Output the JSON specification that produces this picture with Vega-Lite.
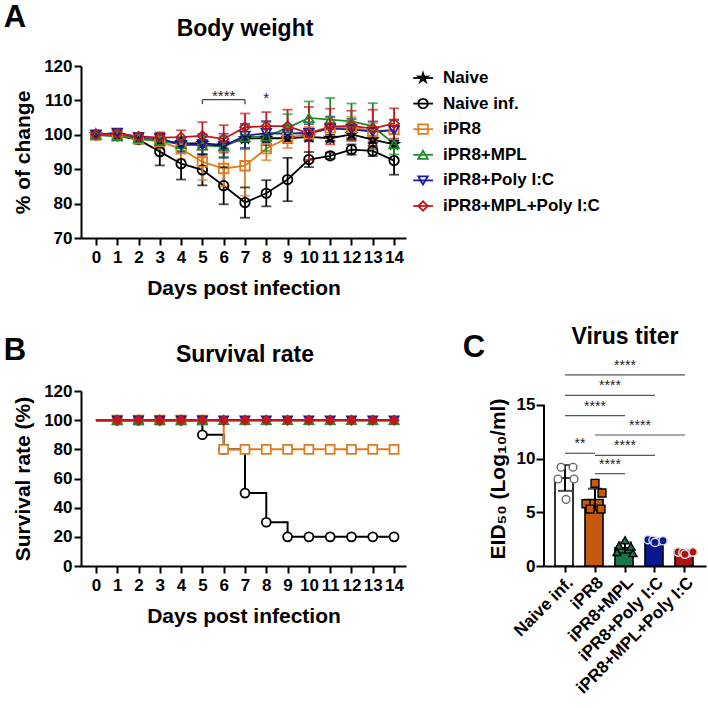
{
"$schema": "https://vega.github.io/schema/vega-lite/v6.json",
"padding": {"left": 3, "top": 2, "right": 5, "bottom": 3},
"bounds": "flush",
"spacing": 153,
"background": "white",
"config": {
  "font": "Liberation Sans",
  "view": {"stroke": null},
  "axis": {"labelFont": "Liberation Sans", "labelFontWeight": "bold", "labelFontSize": 17, "labelColor": "black",
           "titleFont": "Liberation Sans", "titleFontWeight": "bold", "titleFontSize": 21, "titleColor": "black",
           "domainColor": "black", "domainWidth": 2, "tickColor": "black", "tickWidth": 2, "tickSize": 7, "grid": false, "labelPadding": 3}
},
"resolve": {"scale": {"color": "independent", "shape": "independent", "fill": "independent", "stroke": "independent", "size": "independent"}},
"datasets": {
  "bw": [
    {"g":"Naive","d":0,"w":100,"lo":99.5,"hi":100.5},{"g":"Naive","d":1,"w":99.8,"lo":99.0,"hi":100.6},{"g":"Naive","d":2,"w":98.8,"lo":98.0,"hi":99.6},{"g":"Naive","d":3,"w":98.3,"lo":97.3,"hi":99.3},{"g":"Naive","d":4,"w":97.6,"lo":96.6,"hi":98.6},{"g":"Naive","d":5,"w":97.5,"lo":96.5,"hi":98.5},{"g":"Naive","d":6,"w":97.0,"lo":96.0,"hi":98.0},{"g":"Naive","d":7,"w":98.9,"lo":97.9,"hi":99.9},{"g":"Naive","d":8,"w":99.0,"lo":98.0,"hi":100.0},{"g":"Naive","d":9,"w":99.0,"lo":98.0,"hi":100.0},{"g":"Naive","d":10,"w":99.4,"lo":98.4,"hi":100.4},{"g":"Naive","d":11,"w":99.0,"lo":98.0,"hi":100.0},{"g":"Naive","d":12,"w":100.1,"lo":99.1,"hi":101.1},{"g":"Naive","d":13,"w":98.6,"lo":97.6,"hi":99.6},{"g":"Naive","d":14,"w":97.2,"lo":96.2,"hi":98.2},
    {"g":"Naive inf.","d":0,"w":100,"lo":99.5,"hi":100.5},{"g":"Naive inf.","d":1,"w":99.7,"lo":98.9,"hi":100.5},{"g":"Naive inf.","d":2,"w":98.6,"lo":97.6,"hi":99.6},{"g":"Naive inf.","d":3,"w":95.1,"lo":91.1,"hi":99.1},{"g":"Naive inf.","d":4,"w":91.6,"lo":87.0,"hi":96.2},{"g":"Naive inf.","d":5,"w":89.8,"lo":85.3,"hi":94.3},{"g":"Naive inf.","d":6,"w":85.2,"lo":79.8,"hi":90.6},{"g":"Naive inf.","d":7,"w":80.3,"lo":75.9,"hi":84.7},{"g":"Naive inf.","d":8,"w":83.0,"lo":79.2,"hi":86.8},{"g":"Naive inf.","d":9,"w":87.0,"lo":80.7,"hi":93.3},{"g":"Naive inf.","d":10,"w":92.8,"lo":90.6,"hi":95.0},{"g":"Naive inf.","d":11,"w":93.9,"lo":93.0,"hi":94.8},{"g":"Naive inf.","d":12,"w":95.7,"lo":94.2,"hi":97.2},{"g":"Naive inf.","d":13,"w":95.3,"lo":93.8,"hi":96.8},{"g":"Naive inf.","d":14,"w":92.5,"lo":88.4,"hi":96.6},
    {"g":"iPR8","d":0,"w":100,"lo":99.5,"hi":100.5},{"g":"iPR8","d":1,"w":99.8,"lo":99.0,"hi":100.6},{"g":"iPR8","d":2,"w":98.8,"lo":97.8,"hi":99.8},{"g":"iPR8","d":3,"w":98.1,"lo":95.9,"hi":100.3},{"g":"iPR8","d":4,"w":95.9,"lo":92.9,"hi":98.9},{"g":"iPR8","d":5,"w":92.1,"lo":86.9,"hi":97.3},{"g":"iPR8","d":6,"w":90.2,"lo":85.0,"hi":95.4},{"g":"iPR8","d":7,"w":91.0,"lo":82.3,"hi":99.7},{"g":"iPR8","d":8,"w":96.0,"lo":92.6,"hi":99.4},{"g":"iPR8","d":9,"w":99.1,"lo":96.1,"hi":102.1},{"g":"iPR8","d":10,"w":100.3,"lo":98.3,"hi":102.3},{"g":"iPR8","d":11,"w":102.0,"lo":99.0,"hi":105.0},{"g":"iPR8","d":12,"w":102.2,"lo":99.2,"hi":105.2},{"g":"iPR8","d":13,"w":101.0,"lo":98.5,"hi":103.5},{"g":"iPR8","d":14,"w":101.5,"lo":98.5,"hi":104.5},
    {"g":"iPR8+MPL","d":0,"w":100,"lo":99.5,"hi":100.5},{"g":"iPR8+MPL","d":1,"w":99.6,"lo":98.8,"hi":100.4},{"g":"iPR8+MPL","d":2,"w":99.0,"lo":98.0,"hi":100.0},{"g":"iPR8+MPL","d":3,"w":98.2,"lo":96.2,"hi":100.2},{"g":"iPR8+MPL","d":4,"w":97.3,"lo":95.3,"hi":99.3},{"g":"iPR8+MPL","d":5,"w":96.9,"lo":94.4,"hi":99.4},{"g":"iPR8+MPL","d":6,"w":96.6,"lo":93.6,"hi":99.6},{"g":"iPR8+MPL","d":7,"w":99.3,"lo":95.8,"hi":102.8},{"g":"iPR8+MPL","d":8,"w":99.5,"lo":95.3,"hi":103.7},{"g":"iPR8+MPL","d":9,"w":102.0,"lo":98.0,"hi":106.0},{"g":"iPR8+MPL","d":10,"w":104.9,"lo":100.1,"hi":109.7},{"g":"iPR8+MPL","d":11,"w":104.4,"lo":98.1,"hi":110.7},{"g":"iPR8+MPL","d":12,"w":103.9,"lo":98.7,"hi":109.1},{"g":"iPR8+MPL","d":13,"w":102.5,"lo":95.8,"hi":109.2},{"g":"iPR8+MPL","d":14,"w":97.3,"lo":94.3,"hi":100.3},
    {"g":"iPR8+Poly I:C","d":0,"w":100,"lo":99.2,"hi":100.8},{"g":"iPR8+Poly I:C","d":1,"w":100.6,"lo":99.6,"hi":101.6},{"g":"iPR8+Poly I:C","d":2,"w":99.3,"lo":98.3,"hi":100.3},{"g":"iPR8+Poly I:C","d":3,"w":99.0,"lo":97.5,"hi":100.5},{"g":"iPR8+Poly I:C","d":4,"w":97.0,"lo":95.0,"hi":99.0},{"g":"iPR8+Poly I:C","d":5,"w":97.2,"lo":94.2,"hi":100.2},{"g":"iPR8+Poly I:C","d":6,"w":96.8,"lo":93.3,"hi":100.3},{"g":"iPR8+Poly I:C","d":7,"w":99.7,"lo":96.2,"hi":103.2},{"g":"iPR8+Poly I:C","d":8,"w":100.5,"lo":97.0,"hi":104.0},{"g":"iPR8+Poly I:C","d":9,"w":100.3,"lo":97.8,"hi":102.8},{"g":"iPR8+Poly I:C","d":10,"w":100.6,"lo":98.1,"hi":103.1},{"g":"iPR8+Poly I:C","d":11,"w":101.8,"lo":98.3,"hi":105.3},{"g":"iPR8+Poly I:C","d":12,"w":101.6,"lo":98.6,"hi":104.6},{"g":"iPR8+Poly I:C","d":13,"w":100.9,"lo":97.9,"hi":103.9},{"g":"iPR8+Poly I:C","d":14,"w":101.3,"lo":98.3,"hi":104.3},
    {"g":"iPR8+MPL+Poly I:C","d":0,"w":100,"lo":99.4,"hi":100.6},{"g":"iPR8+MPL+Poly I:C","d":1,"w":100.3,"lo":99.5,"hi":101.1},{"g":"iPR8+MPL+Poly I:C","d":2,"w":99.5,"lo":98.5,"hi":100.5},{"g":"iPR8+MPL+Poly I:C","d":3,"w":99.2,"lo":97.7,"hi":100.7},{"g":"iPR8+MPL+Poly I:C","d":4,"w":99.3,"lo":97.3,"hi":101.3},{"g":"iPR8+MPL+Poly I:C","d":5,"w":99.7,"lo":95.7,"hi":103.7},{"g":"iPR8+MPL+Poly I:C","d":6,"w":98.8,"lo":94.8,"hi":102.8},{"g":"iPR8+MPL+Poly I:C","d":7,"w":102.2,"lo":98.2,"hi":106.2},{"g":"iPR8+MPL+Poly I:C","d":8,"w":102.5,"lo":98.4,"hi":106.6},{"g":"iPR8+MPL+Poly I:C","d":9,"w":102.5,"lo":97.7,"hi":107.3},{"g":"iPR8+MPL+Poly I:C","d":10,"w":100.4,"lo":92.7,"hi":108.1},{"g":"iPR8+MPL+Poly I:C","d":11,"w":102.4,"lo":97.2,"hi":107.6},{"g":"iPR8+MPL+Poly I:C","d":12,"w":102.6,"lo":98.2,"hi":107.0},{"g":"iPR8+MPL+Poly I:C","d":13,"w":101.8,"lo":96.3,"hi":107.3},{"g":"iPR8+MPL+Poly I:C","d":14,"w":103.3,"lo":98.9,"hi":107.7}
  ],
  "surv": [
    {"g":"Naive inf.","d":0,"s":100},{"g":"Naive inf.","d":1,"s":100},{"g":"Naive inf.","d":2,"s":100},{"g":"Naive inf.","d":3,"s":100},{"g":"Naive inf.","d":4,"s":100},{"g":"Naive inf.","d":5,"s":90},{"g":"Naive inf.","d":6,"s":80},{"g":"Naive inf.","d":7,"s":50},{"g":"Naive inf.","d":8,"s":30},{"g":"Naive inf.","d":9,"s":20},{"g":"Naive inf.","d":10,"s":20},{"g":"Naive inf.","d":11,"s":20},{"g":"Naive inf.","d":12,"s":20},{"g":"Naive inf.","d":13,"s":20},{"g":"Naive inf.","d":14,"s":20},
    {"g":"iPR8","d":0,"s":100},{"g":"iPR8","d":1,"s":100},{"g":"iPR8","d":2,"s":100},{"g":"iPR8","d":3,"s":100},{"g":"iPR8","d":4,"s":100},{"g":"iPR8","d":5,"s":100},{"g":"iPR8","d":6,"s":80},{"g":"iPR8","d":7,"s":80},{"g":"iPR8","d":8,"s":80},{"g":"iPR8","d":9,"s":80},{"g":"iPR8","d":10,"s":80},{"g":"iPR8","d":11,"s":80},{"g":"iPR8","d":12,"s":80},{"g":"iPR8","d":13,"s":80},{"g":"iPR8","d":14,"s":80},
    {"g":"iPR8+MPL","d":0,"s":100},{"g":"iPR8+MPL","d":1,"s":100},{"g":"iPR8+MPL","d":2,"s":100},{"g":"iPR8+MPL","d":3,"s":100},{"g":"iPR8+MPL","d":4,"s":100},{"g":"iPR8+MPL","d":5,"s":100},{"g":"iPR8+MPL","d":6,"s":100},{"g":"iPR8+MPL","d":7,"s":100},{"g":"iPR8+MPL","d":8,"s":100},{"g":"iPR8+MPL","d":9,"s":100},{"g":"iPR8+MPL","d":10,"s":100},{"g":"iPR8+MPL","d":11,"s":100},{"g":"iPR8+MPL","d":12,"s":100},{"g":"iPR8+MPL","d":13,"s":100},{"g":"iPR8+MPL","d":14,"s":100},
    {"g":"iPR8+Poly I:C","d":0,"s":100},{"g":"iPR8+Poly I:C","d":1,"s":100},{"g":"iPR8+Poly I:C","d":2,"s":100},{"g":"iPR8+Poly I:C","d":3,"s":100},{"g":"iPR8+Poly I:C","d":4,"s":100},{"g":"iPR8+Poly I:C","d":5,"s":100},{"g":"iPR8+Poly I:C","d":6,"s":100},{"g":"iPR8+Poly I:C","d":7,"s":100},{"g":"iPR8+Poly I:C","d":8,"s":100},{"g":"iPR8+Poly I:C","d":9,"s":100},{"g":"iPR8+Poly I:C","d":10,"s":100},{"g":"iPR8+Poly I:C","d":11,"s":100},{"g":"iPR8+Poly I:C","d":12,"s":100},{"g":"iPR8+Poly I:C","d":13,"s":100},{"g":"iPR8+Poly I:C","d":14,"s":100},
    {"g":"iPR8+MPL+Poly I:C","d":0,"s":100},{"g":"iPR8+MPL+Poly I:C","d":1,"s":100},{"g":"iPR8+MPL+Poly I:C","d":2,"s":100},{"g":"iPR8+MPL+Poly I:C","d":3,"s":100},{"g":"iPR8+MPL+Poly I:C","d":4,"s":100},{"g":"iPR8+MPL+Poly I:C","d":5,"s":100},{"g":"iPR8+MPL+Poly I:C","d":6,"s":100},{"g":"iPR8+MPL+Poly I:C","d":7,"s":100},{"g":"iPR8+MPL+Poly I:C","d":8,"s":100},{"g":"iPR8+MPL+Poly I:C","d":9,"s":100},{"g":"iPR8+MPL+Poly I:C","d":10,"s":100},{"g":"iPR8+MPL+Poly I:C","d":11,"s":100},{"g":"iPR8+MPL+Poly I:C","d":12,"s":100},{"g":"iPR8+MPL+Poly I:C","d":13,"s":100},{"g":"iPR8+MPL+Poly I:C","d":14,"s":100}
  ],
  "titer": [
    {"g":"Naive inf.","m":8.2,"lo":7.0,"hi":9.4},
    {"g":"iPR8","m":6.2,"lo":5.2,"hi":7.2},
    {"g":"iPR8+MPL","m":1.7,"lo":1.2,"hi":2.2},
    {"g":"iPR8+Poly I:C","m":2.3,"lo":2.15,"hi":2.45},
    {"g":"iPR8+MPL+Poly I:C","m":1.2,"lo":1.1,"hi":1.3}
  ],
  "pts": [
    {"g":"Naive inf.","v":9.2,"j":-4},{"g":"Naive inf.","v":9.2,"j":8},{"g":"Naive inf.","v":8.1,"j":-7},{"g":"Naive inf.","v":8.1,"j":9},{"g":"Naive inf.","v":6.2,"j":1},
    {"g":"iPR8","v":7.7,"j":0},{"g":"iPR8","v":5.8,"j":-9},{"g":"iPR8","v":6.8,"j":7},{"g":"iPR8","v":5.3,"j":-5},{"g":"iPR8","v":5.3,"j":6},
    {"g":"iPR8+MPL","v":2.4,"j":0},{"g":"iPR8+MPL","v":1.9,"j":-6},{"g":"iPR8+MPL","v":1.8,"j":6},{"g":"iPR8+MPL","v":1.3,"j":-8},{"g":"iPR8+MPL","v":1.2,"j":8},
    {"g":"iPR8+Poly I:C","v":2.45,"j":-7},{"g":"iPR8+Poly I:C","v":2.4,"j":-2},{"g":"iPR8+Poly I:C","v":2.3,"j":3},{"g":"iPR8+Poly I:C","v":2.35,"j":8},{"g":"iPR8+Poly I:C","v":2.2,"j":0},
    {"g":"iPR8+MPL+Poly I:C","v":1.3,"j":-7},{"g":"iPR8+MPL+Poly I:C","v":1.25,"j":-2},{"g":"iPR8+MPL+Poly I:C","v":1.2,"j":3},{"g":"iPR8+MPL+Poly I:C","v":1.3,"j":8},{"g":"iPR8+MPL+Poly I:C","v":1.1,"j":0}
  ],
  "sig": [
    {"g1":"Naive inf.","g2":"iPR8+MPL+Poly I:C","lev":17.8,"lab":"****","mid":"iPR8+MPL","odd":0},
    {"g1":"Naive inf.","g2":"iPR8+Poly I:C","lev":15.9,"lab":"****","mid":"iPR8","odd":1},
    {"g1":"Naive inf.","g2":"iPR8+MPL","lev":14.0,"lab":"****","mid":"iPR8","odd":0},
    {"g1":"iPR8","g2":"iPR8+MPL+Poly I:C","lev":12.2,"lab":"****","mid":"iPR8+MPL","odd":1},
    {"g1":"Naive inf.","g2":"iPR8","lev":10.5,"lab":"**","mid":"Naive inf.","odd":1},
    {"g1":"iPR8","g2":"iPR8+Poly I:C","lev":10.3,"lab":"****","mid":"iPR8+MPL","odd":0},
    {"g1":"iPR8","g2":"iPR8+MPL","lev":8.6,"lab":"****","mid":"iPR8","odd":1}
  ],
  "sigA": [{"d1":5,"d2":7,"lev":110.2,"end":108.9}],
  "starA": [{"d":6,"y":111.4,"t":"****"},{"d":8,"y":110.7,"t":"*"}]
},
"vconcat": [
  {
    "width": 325, "height": 172,
    "resolve": {"scale": {"y": "independent"}, "axis": {"y": "independent"}},
    "layer": [
      {
        "layer": [
          {"data": {"name": "bw"}, "mark": {"type": "line", "strokeWidth": 1.8},
           "encoding": {
             "x": {"field": "d", "type": "quantitative", "scale": {"domain": [-0.7, 14.56], "nice": false, "zero": false},
                   "axis": {"values": [0,1,2,3,4,5,6,7,8,9,10,11,12,13,14], "tickCount": 50, "format": "d", "title": "Days post infection", "labelFlush": false, "labelOverlap": false, "labelPadding": 4, "titlePadding": 12}},
             "y": {"field": "w", "type": "quantitative", "scale": {"domain": [70, 120], "nice": false, "zero": false},
                   "axis": {"values": [70,80,90,100,110,120], "tickCount": 50, "format": "d", "title": "% of change", "labelPadding": 2, "titlePadding": 10}},
             "color": {"field": "g", "type": "nominal", "scale": {"domain": ["Naive","Naive inf.","iPR8","iPR8+MPL","iPR8+Poly I:C","iPR8+MPL+Poly I:C"], "range": ["#000000","#000000","#e07b1e","#1e8c2a","#1c1c9c","#c0181c"]}, "legend": null}
           }},
          {"data": {"name": "bw"}, "mark": {"type": "rule", "strokeWidth": 1.8},
           "encoding": {
             "x": {"field": "d", "type": "quantitative"},
             "y": {"field": "lo", "type": "quantitative"}, "y2": {"field": "hi"},
             "color": {"field": "g", "type": "nominal", "legend": null}
           }},
          {"data": {"name": "bw"}, "mark": {"type": "tick", "orient": "horizontal", "size": 10, "thickness": 1.8},
           "encoding": {"x": {"field": "d", "type": "quantitative"}, "y": {"field": "lo", "type": "quantitative"}, "color": {"field": "g", "type": "nominal", "legend": null}}},
          {"data": {"name": "bw"}, "mark": {"type": "tick", "orient": "horizontal", "size": 10, "thickness": 1.8},
           "encoding": {"x": {"field": "d", "type": "quantitative"}, "y": {"field": "hi", "type": "quantitative"}, "color": {"field": "g", "type": "nominal", "legend": null}}},
          {"data": {"name": "bw"}, "mark": {"type": "point", "filled": false, "size": 90, "strokeWidth": 1.8, "opacity": 1},
           "encoding": {
             "x": {"field": "d", "type": "quantitative"},
             "y": {"field": "w", "type": "quantitative"},
             "color": {"field": "g", "type": "nominal", "legend": null},
             "shape": {"field": "g", "type": "nominal", "scale": {"domain": ["Naive","Naive inf.","iPR8","iPR8+MPL","iPR8+Poly I:C","iPR8+MPL+Poly I:C"], "range": ["M0,-1L0.22,-0.3L0.95,-0.31L0.36,0.12L0.59,0.81L0,0.38L-0.59,0.81L-0.36,0.12L-0.95,-0.31L-0.22,-0.3Z","circle","square","triangle-up","triangle-down","diamond"]}, "legend": null}
           }},
          {"data": {"name": "sigA"}, "mark": {"type": "rule", "color": "#444444", "strokeWidth": 1.3},
           "encoding": {"x": {"field": "d1", "type": "quantitative"}, "x2": {"field": "d2"}, "y": {"field": "lev", "type": "quantitative"}}},
          {"data": {"name": "sigA"}, "mark": {"type": "rule", "color": "#444444", "strokeWidth": 1.3},
           "encoding": {"x": {"field": "d1", "type": "quantitative"}, "y": {"field": "lev", "type": "quantitative"}, "y2": {"field": "end"}}},
          {"data": {"name": "sigA"}, "mark": {"type": "rule", "color": "#444444", "strokeWidth": 1.3},
           "encoding": {"x": {"field": "d2", "type": "quantitative"}, "y": {"field": "lev", "type": "quantitative"}, "y2": {"field": "end"}}},
          {"data": {"name": "starA"}, "mark": {"type": "text", "fontSize": 15, "color": "#222222", "align": "center", "baseline": "middle"},
           "encoding": {"x": {"field": "d", "type": "quantitative"}, "y": {"field": "y", "type": "quantitative"}, "text": {"field": "t"}}},
          {"data": {"values": [{}]}, "mark": {"type": "text", "fontSize": 23, "fontWeight": "bold", "color": "black", "align": "center", "baseline": "middle"},
           "encoding": {"x": {"datum": 7, "type": "quantitative"}, "y": {"datum": 130.9, "type": "quantitative"}, "text": {"value": "Body weight"}}},
          {"data": {"values": [{}]}, "mark": {"type": "text", "fontSize": 31, "fontWeight": "bold", "color": "black", "align": "center", "baseline": "top"},
           "encoding": {"x": {"datum": -3.8, "type": "quantitative"}, "y": {"datum": 138.3, "type": "quantitative"}, "text": {"value": "A"}}}
        ]
      },
      {
        "data": {"name": "bw"},
        "transform": [{"filter": "datum.d == 0"}],
        "encoding": {
          "y": {"field": "g", "type": "nominal", "scale": {"type": "point", "domain": ["Naive","Naive inf.","iPR8","iPR8+MPL","iPR8+Poly I:C","iPR8+MPL+Poly I:C"], "range": [12, 140], "padding": 0}, "axis": null}
        },
        "layer": [
          {"mark": {"type": "rule", "strokeWidth": 1.8},
           "encoding": {"x": {"datum": 14.9, "type": "quantitative"}, "x2": {"datum": 15.83}, "color": {"field": "g", "type": "nominal", "legend": null}}},
          {"mark": {"type": "point", "filled": false, "size": 90, "strokeWidth": 1.8, "opacity": 1},
           "encoding": {"x": {"datum": 15.36, "type": "quantitative"}, "color": {"field": "g", "type": "nominal", "legend": null}, "shape": {"field": "g", "type": "nominal", "legend": null}}},
          {"mark": {"type": "text", "fontSize": 17, "fontWeight": "bold", "color": "black", "align": "left", "baseline": "middle"},
           "encoding": {"x": {"datum": 16.3, "type": "quantitative"}, "text": {"field": "g"}}}
        ]
      }
    ]
  },
  {
    "hconcat": [
      {
        "width": 325, "height": 175,
        "layer": [
          {"data": {"name": "surv"}, "mark": {"type": "line", "interpolate": "step-after", "strokeWidth": 2},
           "encoding": {
             "x": {"field": "d", "type": "quantitative", "scale": {"domain": [-0.7, 14.56], "nice": false, "zero": false},
                   "axis": {"values": [0,1,2,3,4,5,6,7,8,9,10,11,12,13,14], "tickCount": 50, "format": "d", "title": "Days post infection", "labelFlush": false, "labelOverlap": false, "labelPadding": 4, "titlePadding": 12}},
             "y": {"field": "s", "type": "quantitative", "scale": {"domain": [0, 120], "nice": false},
                   "axis": {"values": [0,20,40,60,80,100,120], "tickCount": 50, "format": "d", "title": "Survival rate (%)", "labelPadding": 2, "titlePadding": 10}},
             "color": {"field": "g", "type": "nominal", "scale": {"domain": ["Naive inf.","iPR8","iPR8+MPL","iPR8+Poly I:C","iPR8+MPL+Poly I:C"], "range": ["#000000","#e07b1e","#1e8c2a","#1c1c9c","#c0181c"]}, "legend": null}
           }},
          {"data": {"name": "surv"}, "transform": [{"filter": "datum.d > 0"}],
           "mark": {"type": "point", "filled": true, "size": 80, "strokeWidth": 1.8, "opacity": 1},
           "encoding": {
             "x": {"field": "d", "type": "quantitative"},
             "y": {"field": "s", "type": "quantitative"},
             "shape": {"field": "g", "type": "nominal", "scale": {"domain": ["Naive inf.","iPR8","iPR8+MPL","iPR8+Poly I:C","iPR8+MPL+Poly I:C"], "range": ["circle","square","triangle-up","triangle-down","diamond"]}, "legend": null},
             "fill": {"field": "g", "type": "nominal", "scale": {"domain": ["Naive inf.","iPR8","iPR8+MPL","iPR8+Poly I:C","iPR8+MPL+Poly I:C"], "range": ["#ffffff","#ffffff","#1e8c2a","#1c1c9c","#c0181c"]}, "legend": null},
             "stroke": {"field": "g", "type": "nominal", "scale": {"domain": ["Naive inf.","iPR8","iPR8+MPL","iPR8+Poly I:C","iPR8+MPL+Poly I:C"], "range": ["#000000","#e07b1e","#1e8c2a","#1c1c9c","#c0181c"]}, "legend": null}
           }},
          {"data": {"values": [{}]}, "mark": {"type": "text", "fontSize": 23, "fontWeight": "bold", "color": "black", "align": "center", "baseline": "middle"},
           "encoding": {"x": {"datum": 7, "type": "quantitative"}, "y": {"datum": 144.7, "type": "quantitative"}, "text": {"value": "Survival rate"}}},
          {"data": {"values": [{}]}, "mark": {"type": "text", "fontSize": 31, "fontWeight": "bold", "color": "black", "align": "center", "baseline": "top"},
           "encoding": {"x": {"datum": -3.8, "type": "quantitative"}, "y": {"datum": 157.9, "type": "quantitative"}, "text": {"value": "B"}}}
        ]
      },
      {
        "width": 162, "height": 175,
        "layer": [
          {"data": {"name": "titer"}, "mark": {"type": "bar", "stroke": "black", "strokeWidth": 1.6},
           "encoding": {
             "x": {"field": "g", "type": "nominal", "sort": null, "scale": {"domain": ["Naive inf.","iPR8","iPR8+MPL","iPR8+Poly I:C","iPR8+MPL+Poly I:C"], "paddingInner": 0.333, "paddingOuter": 0.367},
                   "axis": {"title": null, "labelAngle": -45, "labelFontSize": 17, "tickSize": 6, "labelPadding": 2}},
             "y": {"field": "m", "type": "quantitative", "scale": {"domain": [0, 16.3], "nice": false},
                   "axis": {"values": [0,5,10,15], "tickCount": 50, "format": "d", "title": "EID₅₀ (Log₁₀/ml)", "domain": false, "tickSize": 8, "labelPadding": 1, "titlePadding": 8}},
             "fill": {"field": "g", "type": "nominal", "scale": {"domain": ["Naive inf.","iPR8","iPR8+MPL","iPR8+Poly I:C","iPR8+MPL+Poly I:C"], "range": ["#ffffff","#c55a0e","#17784a","#0a1890","#b01212"]}, "legend": null}
           }},
          {"data": {"values": [{}]}, "mark": {"type": "rule", "color": "black", "strokeWidth": 2},
           "encoding": {"x": {"value": 0}, "y": {"datum": 0, "type": "quantitative"}, "y2": {"datum": 15}}},
          {"data": {"name": "titer"}, "mark": {"type": "rule", "color": "black", "strokeWidth": 2},
           "encoding": {"x": {"field": "g", "type": "nominal"}, "y": {"field": "lo", "type": "quantitative"}, "y2": {"field": "hi"}}},
          {"data": {"name": "titer"}, "mark": {"type": "tick", "orient": "horizontal", "size": 14, "thickness": 2, "color": "black"},
           "encoding": {"x": {"field": "g", "type": "nominal"}, "y": {"field": "lo", "type": "quantitative"}}},
          {"data": {"name": "titer"}, "mark": {"type": "tick", "orient": "horizontal", "size": 14, "thickness": 2, "color": "black"},
           "encoding": {"x": {"field": "g", "type": "nominal"}, "y": {"field": "hi", "type": "quantitative"}}},
          {"data": {"name": "pts"}, "mark": {"type": "point", "filled": true, "strokeWidth": 1.4, "opacity": 1},
           "encoding": {
             "x": {"field": "g", "type": "nominal"},
             "xOffset": {"field": "j", "type": "quantitative", "scale": {"domain": [-10, 10]}},
             "y": {"field": "v", "type": "quantitative"},
             "shape": {"field": "g", "type": "nominal", "scale": {"domain": ["Naive inf.","iPR8","iPR8+MPL","iPR8+Poly I:C","iPR8+MPL+Poly I:C"], "range": ["circle","square","triangle-up","circle","circle"]}, "legend": null},
             "size": {"field": "g", "type": "nominal", "scale": {"domain": ["Naive inf.","iPR8","iPR8+MPL","iPR8+Poly I:C","iPR8+MPL+Poly I:C"], "range": [60, 70, 60, 30, 30]}, "legend": null},
             "fill": {"field": "g", "type": "nominal", "scale": {"domain": ["Naive inf.","iPR8","iPR8+MPL","iPR8+Poly I:C","iPR8+MPL+Poly I:C"], "range": ["#ffffff","#ffffff","#ffffff","#111111","#111111"]}, "legend": null},
             "stroke": {"field": "g", "type": "nominal", "scale": {"domain": ["Naive inf.","iPR8","iPR8+MPL","iPR8+Poly I:C","iPR8+MPL+Poly I:C"], "range": ["#666666","#000000","#000000","#dddddd","#dddddd"]}, "legend": null}
           }},
          {"data": {"name": "sig"}, "mark": {"type": "rule", "color": "#555555", "strokeWidth": 1.2},
           "encoding": {"x": {"field": "g1", "type": "nominal"}, "x2": {"field": "g2"}, "y": {"field": "lev", "type": "quantitative"}}},
          {"data": {"name": "sig"}, "transform": [{"filter": "datum.odd == 0"}],
           "mark": {"type": "text", "fontSize": 14, "color": "#222222", "align": "center", "baseline": "middle", "dy": -9},
           "encoding": {"x": {"field": "mid", "type": "nominal"}, "y": {"field": "lev", "type": "quantitative"}, "text": {"field": "lab"}}},
          {"data": {"name": "sig"}, "transform": [{"filter": "datum.odd == 1"}],
           "mark": {"type": "text", "fontSize": 14, "color": "#222222", "align": "center", "baseline": "middle", "dy": -9, "dx": 15},
           "encoding": {"x": {"field": "mid", "type": "nominal"}, "y": {"field": "lev", "type": "quantitative"}, "text": {"field": "lab"}}},
          {"data": {"values": [{}]}, "mark": {"type": "text", "fontSize": 23, "fontWeight": "bold", "color": "black", "align": "center", "baseline": "middle"},
           "encoding": {"x": {"datum": "iPR8+MPL", "type": "nominal"}, "y": {"datum": 21.3, "type": "quantitative"}, "text": {"value": "Virus titer"}}},
          {"data": {"values": [{}]}, "mark": {"type": "text", "fontSize": 31, "fontWeight": "bold", "color": "black", "align": "center", "baseline": "top", "dx": -91},
           "encoding": {"x": {"datum": "Naive inf.", "type": "nominal"}, "y": {"datum": 21.7, "type": "quantitative"}, "text": {"value": "C"}}}
        ]
      }
    ],
    "spacing": 138,
    "bounds": "flush",
    "resolve": {"scale": {"color": "independent", "shape": "independent", "fill": "independent", "stroke": "independent", "size": "independent"}}
  }
]
}
